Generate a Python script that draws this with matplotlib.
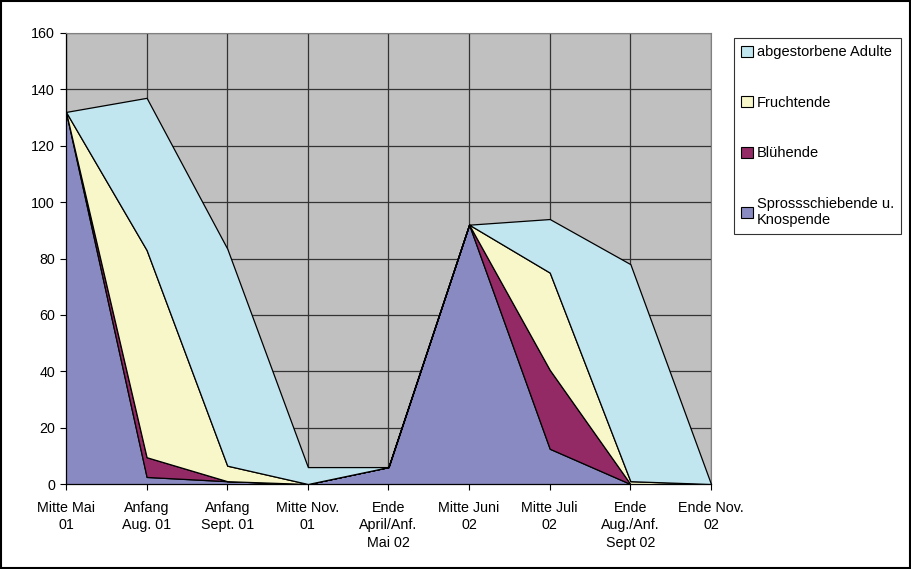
import matplotlib
matplotlib.use("Agg")
import matplotlib.pyplot as plt
from matplotlib.patches import Patch, Rectangle

plt.rcParams['font.family'] = ['Liberation Sans', 'DejaVu Sans']

categories = ["Mitte Mai\n01", "Anfang\nAug. 01", "Anfang\nSept. 01", "Mitte Nov.\n01",
              "Ende\nApril/Anf.\nMai 02", "Mitte Juni\n02", "Mitte Juli\n02",
              "Ende\nAug./Anf.\nSept 02", "Ende Nov.\n02"]
sprossschiebende = [132, 2.5, 1, 0, 6, 92, 12.5, 0, 0]
bluehende = [0, 7, 0, 0, 0, 0, 28, 0, 0]
fruchtende = [0, 73.5, 5.5, 0, 0, 0, 34.5, 1, 0]
abgestorbene = [0, 54, 77, 6, 0, 0, 19, 77, 0]
series_names = ["Sprossschiebende u.\nKnospende", "Blühende", "Fruchtende", "abgestorbene Adulte"]
colors = ["#8A8AC2", "#932A66", "#F8F7CA", "#C2E6EF"]
y_ticks = [0, 20, 40, 60, 80, 100, 120, 140, 160]

fig = plt.figure(figsize=(9.12, 5.69), dpi=100)
ax = fig.add_axes([66/912, 1-484/569, (711-66)/912, (484-33)/569])
ax.set_facecolor("#C0C0C0")

x = list(range(len(categories)))
ax.stackplot(x, sprossschiebende, bluehende, fruchtende, abgestorbene,
             colors=colors, edgecolor="black", linewidth=0.9, zorder=3)

ax.set_xlim(0, len(categories) - 1)
ax.set_ylim(0, 160)
ax.set_yticks(y_ticks)
ax.set_xticks(x)
ax.set_xticklabels(categories, linespacing=1.32)
ax.tick_params(axis='both', direction='out', length=4, width=0.8, colors='black', labelsize=10.3)
ax.tick_params(axis='x', pad=8)
ax.tick_params(axis='y', pad=4)
ax.grid(True, color="#333333", linewidth=0.9, zorder=1)
ax.set_axisbelow(True)
for s in ['top', 'right']:
    ax.spines[s].set_color('#808080')
for s in ['left', 'bottom']:
    ax.spines[s].set_color('black')
    ax.spines[s].set_linewidth(0.9)

handles = [Patch(facecolor=c, edgecolor='black', linewidth=0.8) for c in colors]
leg = fig.legend(handles[::-1], series_names[::-1], loc='upper left',
                 bbox_to_anchor=(734/912, 1-38/569), frameon=True, fancybox=False,
                 edgecolor='black', fontsize=10.5, handlelength=0.8, handleheight=0.8,
                 handletextpad=0.25, labelspacing=2.5, borderpad=0.5, borderaxespad=0)
leg.get_frame().set_linewidth(0.8)

fig.patches.append(Rectangle((0.001, 0.001), 0.997, 0.997, transform=fig.transFigure,
                             fill=False, edgecolor='black', linewidth=1.5))

fig.savefig("out.png", dpi=100, facecolor='white')
